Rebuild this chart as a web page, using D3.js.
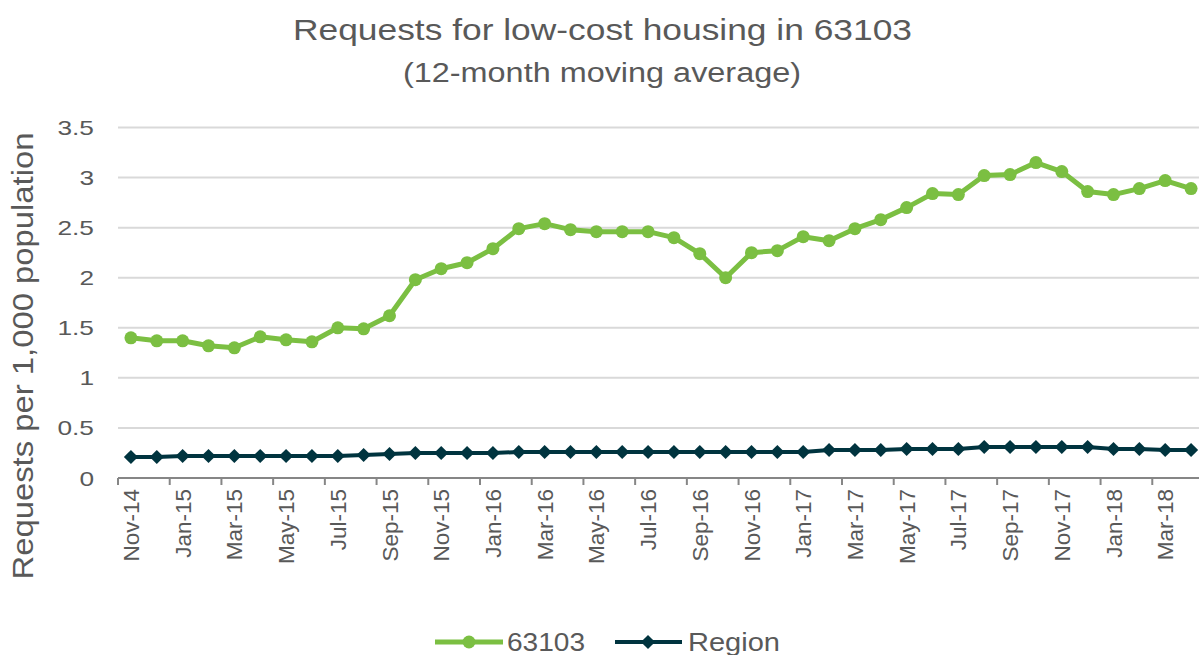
<!DOCTYPE html>
<html>
<head>
<meta charset="utf-8">
<script src="https://cdn.jsdelivr.net/npm/d3@7"></script>
<style>
  body { margin: 0; background: #fff; }
  text { font-family: "Liberation Sans", Arial, sans-serif; fill: #595959; }
</style>
</head>
<body>
<svg id="chart" width="1199" height="655"></svg>
<script>
var months = [
  "Nov-14", "Dec-14",
  "Jan-15", "Feb-15", "Mar-15", "Apr-15", "May-15", "Jun-15", "Jul-15", "Aug-15", "Sep-15", "Oct-15", "Nov-15", "Dec-15",
  "Jan-16", "Feb-16", "Mar-16", "Apr-16", "May-16", "Jun-16", "Jul-16", "Aug-16", "Sep-16", "Oct-16", "Nov-16", "Dec-16",
  "Jan-17", "Feb-17", "Mar-17", "Apr-17", "May-17", "Jun-17", "Jul-17", "Aug-17", "Sep-17", "Oct-17", "Nov-17", "Dec-17",
  "Jan-18", "Feb-18", "Mar-18", "Apr-18"
];

var zip63103 = [
  1.40, 1.37, 1.37, 1.32, 1.30, 1.41, 1.38, 1.36, 1.50, 1.49, 1.62, 1.98, 2.09, 2.15,
  2.29, 2.49, 2.54, 2.48, 2.46, 2.46, 2.46, 2.40, 2.24, 2.00, 2.25, 2.27,
  2.41, 2.37, 2.49, 2.58, 2.70, 2.84, 2.83, 3.02, 3.03, 3.15, 3.06, 2.86,
  2.83, 2.89, 2.97, 2.89
];

var region = [
  0.21, 0.21, 0.22, 0.22, 0.22, 0.22, 0.22, 0.22, 0.22, 0.23, 0.24, 0.25, 0.25, 0.25,
  0.25, 0.26, 0.26, 0.26, 0.26, 0.26, 0.26, 0.26, 0.26, 0.26, 0.26, 0.26,
  0.26, 0.28, 0.28, 0.28, 0.29, 0.29, 0.29, 0.31, 0.31, 0.31, 0.31, 0.31,
  0.29, 0.29, 0.28, 0.28
];

var yTicks = [0, 0.5, 1, 1.5, 2, 2.5, 3, 3.5];

var seriesNames = ["63103", "Region"];
var colors = { green: "#7bbf42", dark: "#00343f" };

var svg = d3.select("#chart");

var x = d3.scaleBand()
    .domain(months)
    .range([118, 1204]);

var y = d3.scaleLinear()
    .domain([0, 3.5])
    .range([478, 127.5]);

var cx = d => x(d) + x.bandwidth() / 2;

// the reference text is a bit wider than plain Arial, so widen it
function stretch(sel, k) {
  sel.each(function() {
    var w = this.getComputedTextLength();
    d3.select(this)
        .attr("textLength", w * k)
        .attr("lengthAdjust", "spacingAndGlyphs");
  });
}

// gridlines
svg.append("g")
  .selectAll("line")
  .data(yTicks.filter(d => d > 0))
  .join("line")
    .attr("x1", x.range()[0])
    .attr("x2", x.range()[1])
    .attr("y1", d => y(d))
    .attr("y2", d => y(d))
    .attr("stroke", "#d9d9d9")
    .attr("stroke-width", 2);

// y labels
svg.append("g")
    .attr("text-anchor", "end")
  .selectAll("text")
  .data(yTicks)
  .join("text")
    .attr("x", 94)
    .attr("y", d => y(d))
    .attr("dy", "0.36em")
    .attr("font-size", "21px")
    .text(d => d)
    .call(stretch, 1.25);

// x axis line + ticks between every second category
var tickPos = months.filter((d, i) => i % 2 == 0).map(d => x(d)).concat([x.range()[1]]);

svg.append("line")
    .attr("x1", x.range()[0])
    .attr("x2", x.range()[1])
    .attr("y1", y(0))
    .attr("y2", y(0))
    .attr("stroke", "#868686")
    .attr("stroke-width", 2);

svg.append("g")
  .selectAll("line")
  .data(tickPos)
  .join("line")
    .attr("x1", d => d)
    .attr("x2", d => d)
    .attr("y1", y(0))
    .attr("y2", y(0) + 7)
    .attr("stroke", "#868686")
    .attr("stroke-width", 2);

// x labels, rotated
svg.append("g")
  .selectAll("text")
  .data(months.filter((d, i) => i % 2 == 0))
  .join("text")
    .attr("transform", d => `translate(${cx(d)},${y(0) + 11}) rotate(-90)`)
    .attr("text-anchor", "end")
    .attr("dy", "0.36em")
    .attr("font-size", "22.5px")
    .text(d => d);

// lines
var line = d3.line()
    .x((_, i) => cx(months[i]))
    .y(d => y(d));

svg.append("path")
    .datum(region)
    .attr("fill", "none")
    .attr("stroke", colors.dark)
    .attr("stroke-width", 4)
    .attr("stroke-linejoin", "round")
    .attr("d", line);

var diamond = d3.symbol(d3.symbolSquare, 100);

svg.append("g")
  .selectAll("path")
  .data(region)
  .join("path")
    .attr("transform", (d, i) => `translate(${cx(months[i])},${y(d)}) rotate(45)`)
    .attr("fill", colors.dark)
    .attr("d", diamond);

svg.append("path")
    .datum(zip63103)
    .attr("fill", "none")
    .attr("stroke", colors.green)
    .attr("stroke-width", 5)
    .attr("stroke-linejoin", "round")
    .attr("d", line);

svg.append("g")
  .selectAll("circle")
  .data(zip63103)
  .join("circle")
    .attr("cx", (d, i) => cx(months[i]))
    .attr("cy", d => y(d))
    .attr("r", 6.5)
    .attr("fill", colors.green);

// titles
svg.append("text")
    .attr("x", 602.5)
    .attr("y", 40)
    .attr("text-anchor", "middle")
    .attr("font-size", "29px")
    .attr("textLength", 619)
    .attr("lengthAdjust", "spacingAndGlyphs")
    .text("Requests for low-cost housing in 63103");

svg.append("text")
    .attr("x", 602)
    .attr("y", 82)
    .attr("text-anchor", "middle")
    .attr("font-size", "27px")
    .attr("textLength", 398)
    .attr("lengthAdjust", "spacingAndGlyphs")
    .text("(12-month moving average)");

svg.append("text")
    .attr("transform", "translate(33,356) rotate(-90)")
    .attr("text-anchor", "middle")
    .attr("font-size", "29px")
    .attr("textLength", 447)
    .attr("lengthAdjust", "spacingAndGlyphs")
    .text("Requests per 1,000 population");

// legend
var legend = svg.append("g");

var g1 = legend.append("g").attr("transform", "translate(435,642)");
g1.append("line").attr("x1", 0).attr("x2", 68)
    .attr("stroke", colors.green).attr("stroke-width", 5);
g1.append("circle").attr("cx", 34).attr("r", 6.5).attr("fill", colors.green);
g1.append("text").attr("x", 72).attr("dy", "0.36em").attr("font-size", "25px")
    .attr("textLength", 78).attr("lengthAdjust", "spacingAndGlyphs")
    .text(seriesNames[0]);

var g2 = legend.append("g").attr("transform", "translate(615,642)");
g2.append("line").attr("x1", 0).attr("x2", 67)
    .attr("stroke", colors.dark).attr("stroke-width", 4);
g2.append("path").attr("transform", "translate(33,0) rotate(45)").attr("fill", colors.dark).attr("d", diamond);
g2.append("text").attr("x", 73).attr("dy", "0.36em").attr("font-size", "25px")
    .attr("textLength", 92).attr("lengthAdjust", "spacingAndGlyphs")
    .text(seriesNames[1]);
</script>
</body>
</html>
